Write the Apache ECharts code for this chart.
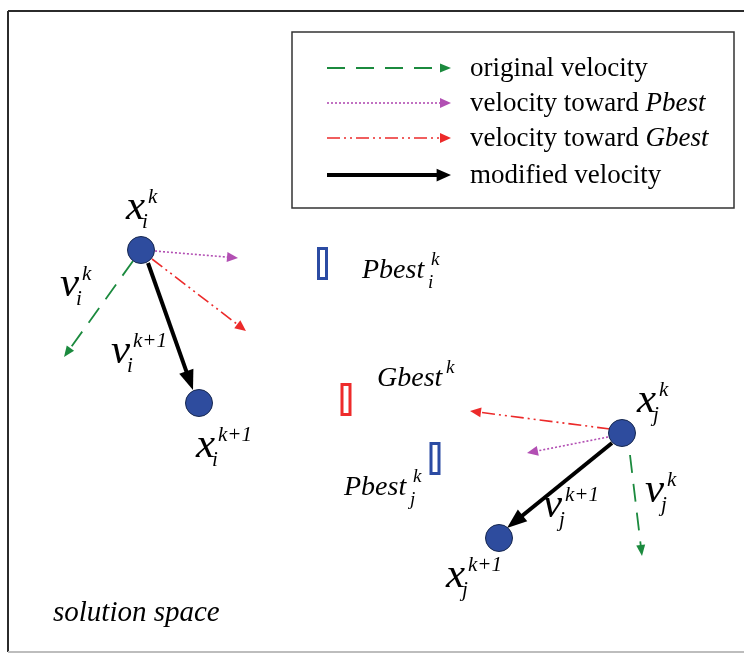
<!DOCTYPE html>
<html>
<head>
<meta charset="utf-8">
<script src="https://cdn.jsdelivr.net/npm/echarts@6/dist/echarts.min.js"></script>
<style>
  html, body { margin: 0; padding: 0; background: #fff; }
  #chart { width: 744px; height: 654px; }
</style>
</head>
<body>
<div id="chart"></div>
<script>
  const W = 744
  const H = 654
  const SERIF = '"Liberation Serif", "Times New Roman", serif'

  // particle positions: x_i^k, x_i^k+1, x_j^k, x_j^k+1
  const particles = [[141, 250], [199, 403], [622, 433], [499, 538]]
  // best positions [x, y, kind]  kind 0 = Pbest (blue), 1 = Gbest (red)
  const bests = [[322.5, 263.5, 0], [346, 399.5, 1], [435, 458.5, 0]]
  // velocity arrows [x0, y0, x1, y1, kind]
  // kind 0 original, 1 toward Pbest, 2 toward Gbest, 3 modified
  const arrows = [
    [133, 261, 64, 357, 0],
    [155, 251, 238, 258, 1],
    [152, 259, 246, 331, 2],
    [148, 263, 193, 390, 3],
    [610, 429, 470, 411, 2],
    [608, 437, 527, 453, 1],
    [630, 455, 642, 556, 0],
    [612, 443, 507, 528, 3]
  ]
  // legend
  const legendText = ['original velocity', 'velocity toward ', 'velocity toward ', 'modified velocity']
  const legendItalic = ['', 'Pbest', 'Gbest', '']
  const legendRows = [68, 103, 138, 175]
  // math labels [left, baseline, letter, sup, sub]
  const mathLabels = [
    [126, 222, 'x', 'k', 'i'],
    [60, 299, 'v', 'k', 'i'],
    [111, 366, 'v', 'k+1', 'i'],
    [196, 460, 'x', 'k+1', 'i'],
    [637, 415, 'x', 'k', 'j'],
    [645, 505, 'v', 'k', 'j'],
    [543, 520, 'v', 'k+1', 'j'],
    [446, 590, 'x', 'k+1', 'j']
  ]
  const bestLabels = [
    [362, 280, 'Pbest', 'k', 'i'],
    [377, 388, 'Gbest', 'k', ''],
    [344, 497, 'Pbest', 'k', 'j']
  ]
  const caption = [53, 623, 'solution space']

  const arrowStyles = [
    { color: '#1b8a3e', width: 1.8, dash: [18, 11], head: [11, 4.5] },
    { color: '#b24fb3', width: 1.6, dash: [2, 2], head: [11, 5] },
    { color: '#ec2a2a', width: 1.6, dash: [13, 4, 2, 4, 2, 4], head: [11, 5] },
    { color: '#000000', width: 4, dash: null, head: [20, 7.5] }
  ]

  // text fragments [left, baseline, text, size]
  const fragments = []
  mathLabels.forEach(l => {
    fragments.push([l[0], l[1], l[2], 43])
    fragments.push([l[0] + 22, l[1] - 17, l[3], 21])
    fragments.push([l[0] + 16, l[1] + 8, l[4], 21])
  })
  bestLabels.forEach(l => {
    fragments.push([l[0], l[1], l[2], 28])
    fragments.push([l[0] + 69, l[1] - 14, l[3], 19])
    if (l[4]) fragments.push([l[0] + 66, l[1] + 9, l[4], 19])
  })
  fragments.push([caption[0], caption[1], caption[2], 29])

  // legend samples share the arrow styles; last value scales the head
  const legendArrows = legendRows.map((y, i) => [327, y, 451, y, i, i === 3 ? 0.72 : 1])

  function renderArrow(params, api) {
    const a = api.coord([api.value(0), api.value(1)])
    const b = api.coord([api.value(2), api.value(3)])
    const st = arrowStyles[api.value(4)]
    const k = api.value(5) || 1
    const dx = b[0] - a[0], dy = b[1] - a[1]
    const len = Math.hypot(dx, dy)
    const ux = dx / len, uy = dy / len
    const hl = st.head[0] * k, hw = st.head[1] * (k < 1 ? 0.85 : 1)
    const bx = b[0] - ux * hl, by = b[1] - uy * hl
    const ex = b[0] - ux * hl * 0.7, ey = b[1] - uy * hl * 0.7
    return {
      type: 'group',
      children: [
        {
          type: 'line',
          shape: { x1: a[0], y1: a[1], x2: ex, y2: ey },
          style: { stroke: st.color, lineWidth: st.width, lineDash: st.dash, fill: null }
        },
        {
          type: 'polygon',
          shape: { points: [[b[0], b[1]], [bx - uy * hw, by + ux * hw], [bx + uy * hw, by - ux * hw]] },
          style: { fill: st.color, stroke: null }
        }
      ]
    }
  }

  function renderBest(params, api) {
    const p = api.coord([api.value(0), api.value(1)])
    return {
      type: 'rect',
      shape: { x: p[0] - 4, y: p[1] - 15, width: 8, height: 30 },
      style: { fill: '#fff', stroke: api.value(2) ? '#ee2b2b' : '#2b4ba3', lineWidth: 3 }
    }
  }

  function renderText(params, api) {
    const size = api.value(3)
    const p = api.coord([api.value(0), api.value(1)])
    return {
      type: 'text',
      x: p[0],
      y: p[1] - size * 0.34,
      style: {
        text: fragments[params.dataIndex][2],
        fontFamily: SERIF,
        fontSize: size,
        fontStyle: 'italic',
        fill: '#000',
        align: 'left',
        verticalAlign: 'middle',
        textAlign: 'left',
        textVerticalAlign: 'middle'
      }
    }
  }

  function renderLegendText(params, api) {
    const i = params.dataIndex
    const p = api.coord([api.value(0), api.value(1)])
    const txt = legendItalic[i]
      ? '{n|' + legendText[i] + '}{it|' + legendItalic[i] + '}'
      : '{n|' + legendText[i] + '}'
    return {
      type: 'text',
      x: p[0],
      y: p[1] + 1,
      style: {
        text: txt,
        fill: '#000',
        align: 'left',
        verticalAlign: 'middle',
        rich: {
          n: { fontFamily: SERIF, fontSize: 27, fill: '#000' },
          it: { fontFamily: SERIF, fontSize: 27, fontStyle: 'italic', fill: '#000' }
        }
      }
    }
  }

  const chart = echarts.init(document.getElementById('chart'), null, { renderer: 'canvas' })

  chart.setOption({
    backgroundColor: '#ffffff',
    animation: false,
    grid: { left: 0, right: 0, top: 0, bottom: 0 },
    xAxis: { type: 'value', min: 0, max: W, show: false },
    yAxis: { type: 'value', min: 0, max: H, inverse: true, show: false },
    graphic: [
      { type: 'line', z: 0, shape: { x1: 8, y1: 11, x2: W, y2: 11 }, style: { stroke: '#2b2b2b', lineWidth: 2 } },
      { type: 'line', z: 0, shape: { x1: 8, y1: 11, x2: 8, y2: 652 }, style: { stroke: '#2b2b2b', lineWidth: 2 } },
      { type: 'line', z: 0, shape: { x1: 8, y1: 652, x2: W, y2: 652 }, style: { stroke: '#bdbdbd', lineWidth: 2 } },
      { type: 'rect', z: 0, shape: { x: 292, y: 32, width: 442, height: 176 }, style: { fill: '#fff', stroke: '#333', lineWidth: 1.5 } }
    ],
    series: [
      {
        type: 'custom',
        z: 3,
        renderItem: renderArrow,
        data: arrows.map(a => a.concat([1])).concat(legendArrows),
        silent: true
      },
      {
        type: 'scatter',
        z: 5,
        symbol: 'circle',
        symbolSize: 27,
        itemStyle: { color: '#2e4c9e', borderColor: '#17284f', borderWidth: 1, opacity: 1 },
        data: particles,
        silent: true
      },
      {
        type: 'custom',
        z: 5,
        renderItem: renderBest,
        data: bests,
        silent: true
      },
      {
        type: 'custom',
        z: 6,
        renderItem: renderText,
        data: fragments,
        silent: true
      },
      {
        type: 'custom',
        z: 6,
        renderItem: renderLegendText,
        data: legendRows.map(y => [470, y]),
        silent: true
      }
    ]
  })
</script>
</body>
</html>
